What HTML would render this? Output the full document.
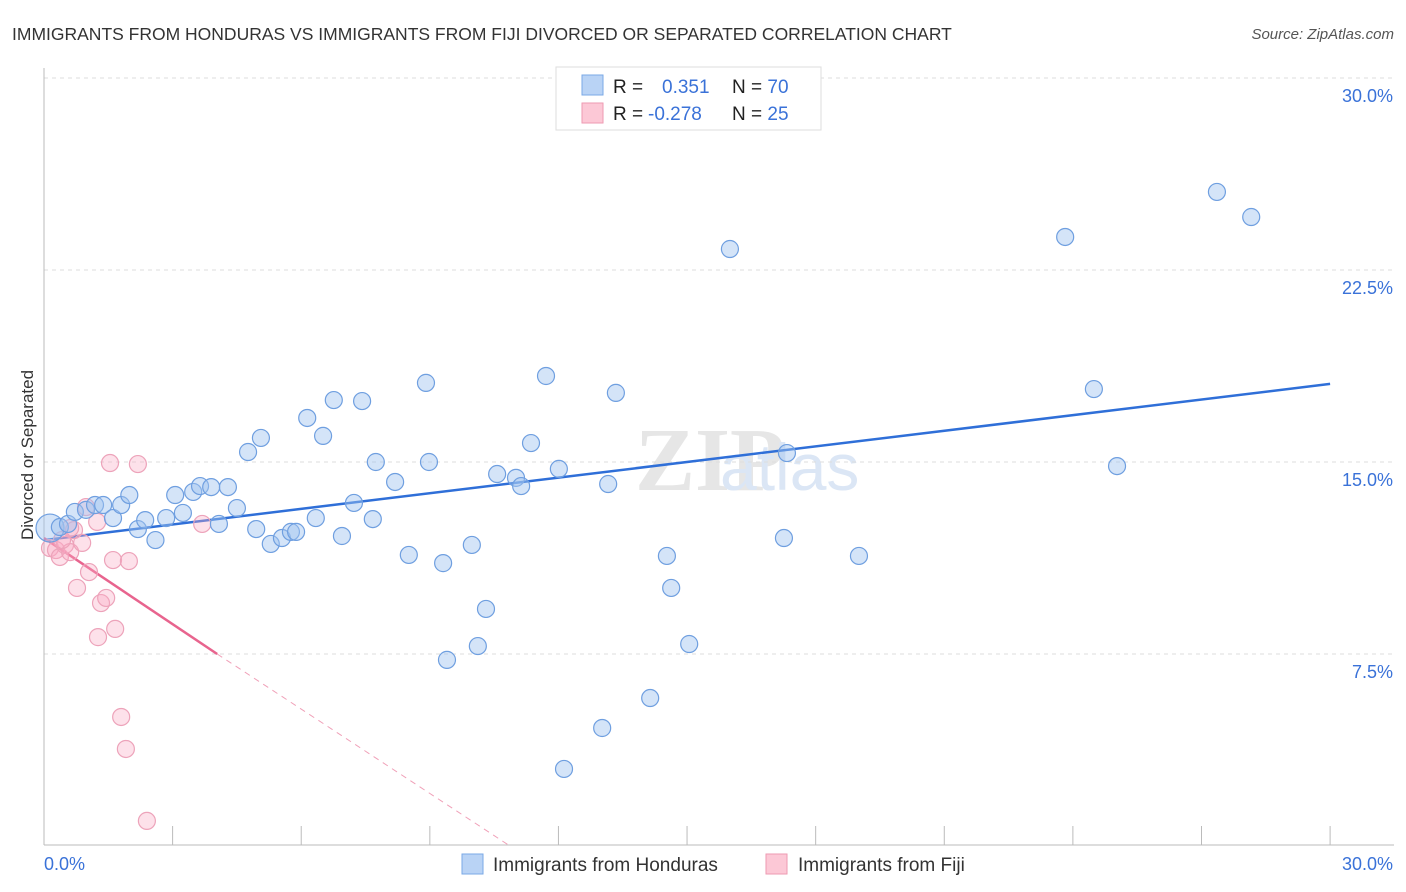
<!DOCTYPE html>
<html><head><meta charset="utf-8">
<style>
body{margin:0;background:#fff;font-family:"Liberation Sans",sans-serif;}
#wrap{position:relative;width:1406px;height:892px;overflow:hidden;}
</style></head>
<body><div id="wrap">
<svg id="svg" width="1406" height="892" xmlns="http://www.w3.org/2000/svg">
<text x="12" y="40" font-size="17.5" fill="#333">IMMIGRANTS FROM HONDURAS VS IMMIGRANTS FROM FIJI DIVORCED OR SEPARATED CORRELATION CHART</text>
<text x="1394" y="39" font-size="15" fill="#555" font-style="italic" text-anchor="end">Source: ZipAtlas.com</text>
<text x="33" y="455" font-size="17" fill="#333" text-anchor="middle" transform="rotate(-90 33 455)">Divorced or Separated</text>
<text x="635" y="490" font-size="90" fill="#e6e6e6" font-family="Liberation Serif,serif" font-weight="bold">ZIP</text>
<text x="720" y="490" font-size="66" fill="#dbe6f5">atlas</text>
<g id="grid"></g><g id="axes"></g><g id="lines"></g><g id="pts"></g>
<rect x="556" y="67" width="265" height="63" fill="#fff" stroke="#ddd"/>
<rect x="582" y="75" width="21" height="20" fill="#b9d3f5" stroke="#7aa8e6"/>
<rect x="582" y="103" width="21" height="20" fill="#fcc8d6" stroke="#ee9ab2"/>
<text x="613" y="93" font-size="19" fill="#222">R = <tspan fill="#3a72d8" x="662">0.351</tspan><tspan fill="#222" x="732">N = </tspan><tspan fill="#3a72d8">70</tspan></text>
<text x="613" y="120" font-size="19" fill="#222">R = <tspan fill="#3a72d8" x="648">-0.278</tspan><tspan fill="#222" x="732">N = </tspan><tspan fill="#3a72d8">25</tspan></text>
<rect x="462" y="854" width="21" height="20" fill="#b9d3f5" stroke="#7aa8e6"/>
<text x="493" y="871" font-size="19" fill="#333">Immigrants from Honduras</text>
<rect x="766" y="854" width="21" height="20" fill="#fcc8d6" stroke="#ee9ab2"/>
<text x="798" y="871" font-size="19" fill="#333">Immigrants from Fiji</text>
</svg></div>
<script>
const yTicks=[7.5,15.0,22.5,30.0];
const yTickLabels=["7.5%","15.0%","22.5%","30.0%"];
const xEndLabels=["0.0%","30.0%"];
const hondX=[0.14,0.37,0.56,0.72,0.98,1.19,1.38,1.61,1.80,1.99,2.19,2.36,2.60,2.85,3.06,3.24,3.48,3.64,3.90,4.29,4.08,4.50,4.76,4.95,5.06,5.29,5.55,5.76,5.88,6.14,6.34,6.51,6.76,6.95,7.23,7.42,7.67,7.74,8.19,8.51,8.91,8.98,9.31,9.40,9.98,10.12,10.31,10.57,11.01,11.13,11.36,11.71,12.01,12.13,13.02,13.16,13.34,14.14,14.53,14.63,15.05,16.0,17.26,17.33,19.01,23.82,24.49,25.03,27.36,28.16];
const hondY=[12.42,12.46,12.58,13.05,13.13,13.32,13.32,12.81,13.32,13.71,12.38,12.73,11.95,12.81,13.71,13.01,13.83,14.06,14.02,14.02,12.58,13.20,15.39,12.38,15.94,11.80,12.03,12.27,12.27,16.72,12.81,16.02,17.42,12.11,13.40,17.38,12.77,15.0,14.22,11.37,18.09,15.0,11.05,7.27,11.76,7.81,9.26,14.53,14.38,14.06,15.74,18.36,14.73,3.01,4.61,14.14,17.70,5.78,11.33,10.08,7.89,23.32,12.03,15.35,11.33,23.79,17.85,14.84,25.55,24.57];
const fijiX=[0.14,0.28,0.37,0.49,0.61,0.70,0.77,0.89,0.98,1.05,1.24,1.33,1.26,1.45,1.61,1.66,1.98,1.54,2.19,1.80,1.91,2.40,3.69,0.61,0.42];
const fijiY=[11.64,11.56,11.29,11.76,11.48,12.34,10.08,11.84,13.24,10.70,12.66,9.49,8.16,9.69,11.17,8.48,11.13,14.96,14.92,5.04,3.79,0.98,12.58,12.42,11.95];
const hondLine=[[0,11.95],[30,18.05]];
const fijiLine=[[0,12.03],[4.04,7.5]];
const fijiDash=[[4.04,7.5],[10.87,0]];
const X=v=>44+v*42.87, Y=v=>846-v*25.6;
const NS="http://www.w3.org/2000/svg";
function mk(tag,parent,attrs){const e=document.createElementNS(NS,tag);for(const k in attrs)e.setAttribute(k,attrs[k]);document.getElementById(parent).appendChild(e);return e;}
yTicks.forEach((t,i)=>{
 const l=mk('line','grid',{x1:44,x2:1394,y1:Y(t),y2:Y(t),stroke:'#ddd','stroke-dasharray':'4,4'});
 
 
 const tx=mk('text','grid',{x:1393,y:Y(t)+24,'font-size':18,fill:'#3a72d8','text-anchor':'end'});
 tx.textContent=yTickLabels[i];
 
 
});
const ax=mk('line','axes',{x1:44,x2:1394,y1:845,y2:845,stroke:'#bbb'});


const ay=mk('line','axes',{x1:44,x2:44,y1:68,y2:845,stroke:'#bbb'});


for(let k=1;k<=10;k++){
 const t=mk('line','axes',{x1:X(k*3),x2:X(k*3),y1:826,y2:845,stroke:'#bbb'});
 
 
}
const xl0=mk('text','axes',{x:44,y:870,'font-size':18,fill:'#3a72d8'});
xl0.textContent=xEndLabels[0];


const xl1=mk('text','axes',{x:1393,y:870,'font-size':18,fill:'#3a72d8','text-anchor':'end'});
xl1.textContent=xEndLabels[1];


fijiX.forEach((v,i)=>{
 const c=mk('circle','pts',{cx:X(v),cy:Y(fijiY[i]),r:8.5,fill:'rgba(248,170,195,0.35)',stroke:'#eda3ba','stroke-width':1.2});
 
 
});
hondX.forEach((v,i)=>{
 const c=mk('circle','pts',{cx:X(v),cy:Y(hondY[i]),r:i==0?14:8.5,fill:'rgba(160,196,240,0.45)',stroke:'#6f9fe0','stroke-width':1.2});
 
 
});
const hl=mk('line','lines',{x1:X(hondLine[0][0]),y1:Y(hondLine[0][1]),x2:X(hondLine[1][0]),y2:Y(hondLine[1][1]),stroke:'#2f6fd8','stroke-width':2.5});


const fl=mk('line','lines',{x1:X(fijiLine[0][0]),y1:Y(fijiLine[0][1]),x2:X(fijiLine[1][0]),y2:Y(fijiLine[1][1]),stroke:'#e8648e','stroke-width':2.5});


const fd=mk('line','lines',{x1:X(fijiDash[0][0]),y1:Y(fijiDash[0][1]),x2:X(fijiDash[1][0]),y2:Y(fijiDash[1][1]),stroke:'#f0a0b8','stroke-width':1,'stroke-dasharray':'6,5'});


</script>
</body></html>
